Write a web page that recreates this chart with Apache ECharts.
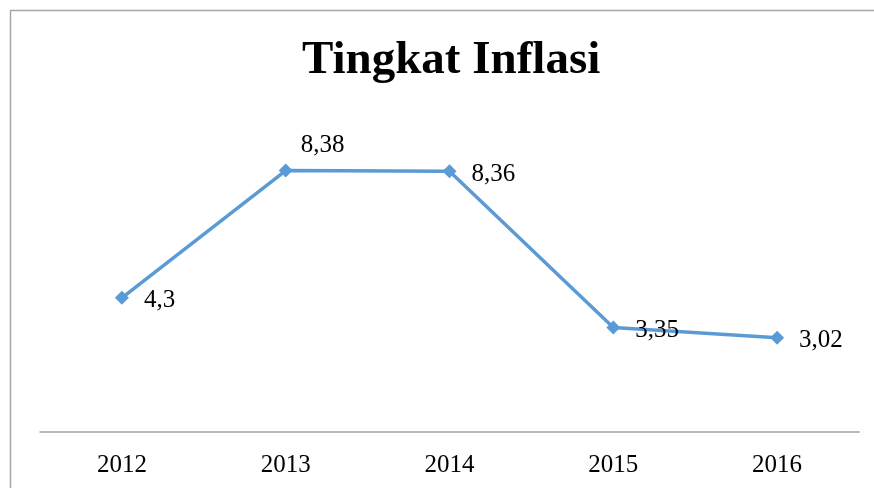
<!DOCTYPE html>
<html>
<head>
<meta charset="utf-8">
<script src="https://cdn.jsdelivr.net/npm/echarts@6/dist/echarts.min.js"></script>
<style>
html,body{margin:0;padding:0;background:#fff;}
#c{width:874px;height:488px;}
</style>
</head>
<body>
<div id="c"></div>
<script>
const title = 'Tingkat Inflasi';
const categories = ['2012', '2013', '2014', '2015', '2016'];
const values = [4.3, 8.38, 8.36, 3.35, 3.02];
const labelTexts = ['4,3', '8,38', '8,36', '3,35', '3,02'];

const FONT = '"Liberation Serif", "Times New Roman", serif';
const chart = echarts.init(document.getElementById('c'), null, {renderer: 'canvas'});

const data = values.map((v, i) => {
  const d = {value: v};
  if (i === 1) {
    d.label = {position: 'right', offset: [-7, -25]};
  }
  return d;
});

chart.setOption({
  backgroundColor: '#ffffff',
  animation: false,
  title: {
    text: title,
    left: 302,
    top: 37,
    padding: 0,
    textStyle: {fontFamily: FONT, fontSize: 47, fontWeight: 'bold', color: '#000'}
  },
  graphic: [{
    type: 'rect',
    shape: {x: 10.5, y: 10.5, width: 900, height: 600},
    style: {fill: 'none', stroke: '#a6a6a6', lineWidth: 1.5},
    silent: true
  }],
  grid: {left: 40, right: 15, top: 120, bottom: 56},
  xAxis: {
    type: 'category',
    data: categories,
    boundaryGap: true,
    axisLine: {lineStyle: {color: '#a0a0a0', width: 1.5}},
    axisTick: {show: false},
    axisLabel: {fontFamily: FONT, fontSize: 25, color: '#000', margin: 21}
  },
  yAxis: {
    type: 'value',
    min: 0,
    max: 10,
    show: false,
    splitLine: {show: false}
  },
  series: [{
    type: 'line',
    data: data,
    symbol: 'diamond',
    symbolSize: 14,
    lineStyle: {color: '#5B9BD5', width: 3.5},
    itemStyle: {color: '#5B9BD5'},
    label: {
      show: true,
      position: 'right',
      distance: 15,
      offset: [0, 3],
      fontFamily: FONT,
      fontSize: 25,
      color: '#000',
      formatter: p => labelTexts[p.dataIndex]
    }
  }]
});
</script>
</body>
</html>
